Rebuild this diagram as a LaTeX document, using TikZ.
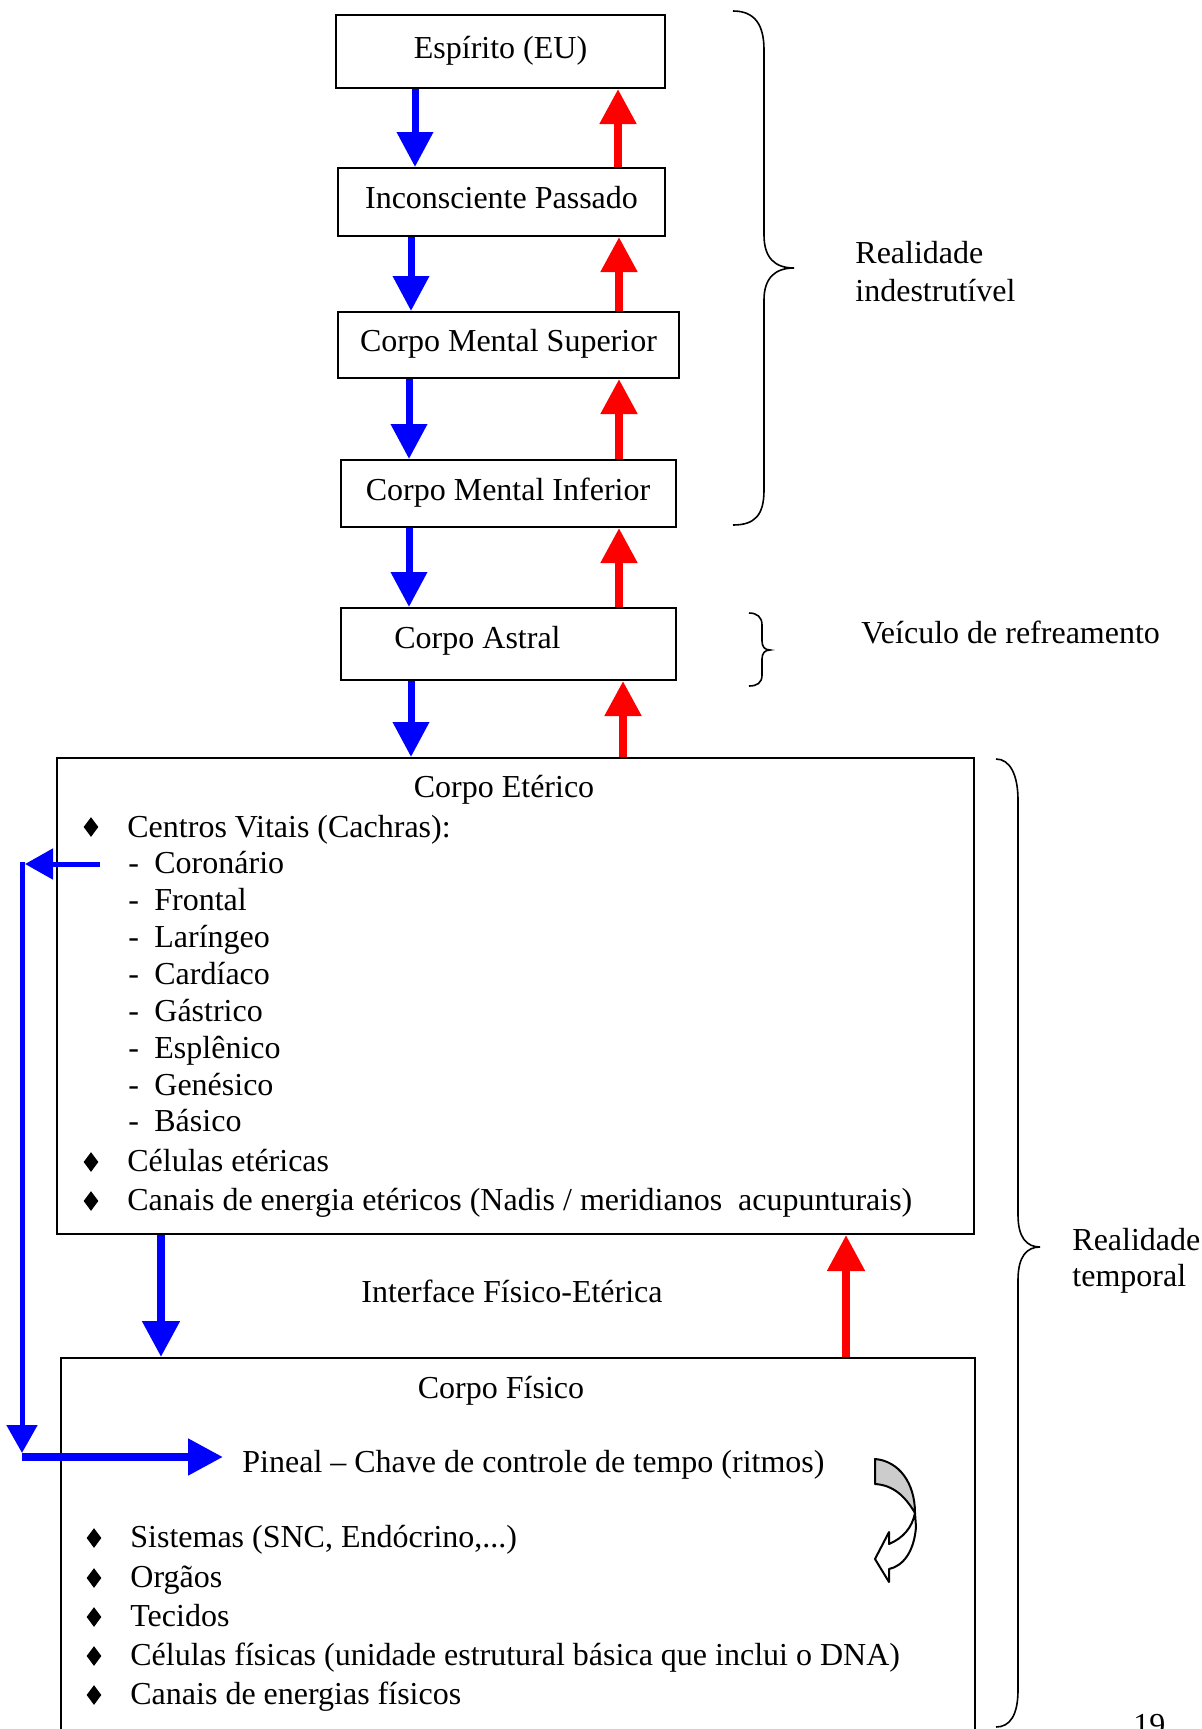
\documentclass[tikz,border=0pt]{standalone}
\usepackage{fontspec}
\setmainfont{Liberation Serif}
\usetikzlibrary{arrows.meta,shapes.geometric}
\tikzset{
  box/.style={draw, line width=1pt, inner sep=0pt, text height=10pt, text depth=3.5pt},
  txt/.style={anchor=base west, inner sep=0pt},
  ctxt/.style={anchor=base, inner sep=0pt},
  bluarrow/.style={draw=blue, line width=3.5pt, -{Triangle[width=17.5pt,length=17.5pt]}, fill=blue},
  redarrow/.style={draw=red, line width=4pt, -{Triangle[width=17.5pt,length=17.5pt]}, fill=red},
  thinblu/.style={draw=blue, line width=2.5pt, -{Triangle[width=15pt,length=14pt]}, fill=blue},
  bracestyle/.style={line width=0.8pt},
  bul/.style={diamond, fill=black, minimum width=7.5pt, minimum height=10pt, inner sep=0pt},
}
\begin{document}
\begin{tikzpicture}[x=0.5pt, y=-0.5pt, font=\fontsize{16pt}{19pt}\selectfont]
\useasboundingbox (0,0) rectangle (1202,1729);

% boxes
\node[box, minimum width=164.5pt, minimum height=36.5pt] (b1) at (500.5,51.5) {Espírito (EU)};
\node[box, minimum width=163.5pt, minimum height=34pt] (b2) at (501.5,202) {Inconsciente Passado};
\node[box, minimum width=170.5pt, minimum height=33pt] (b3) at (508.5,345) {Corpo Mental Superior};
\node[box, minimum width=167.5pt, minimum height=33.5pt] (b4) at (508,493.5) {Corpo Mental Inferior};
\node[box, minimum width=167.5pt, minimum height=36pt] (b5) at (508.5,644) {};
\node[txt] (b5t) at (394,648) {Corpo Astral};
\node[box, minimum width=458.5pt, minimum height=238pt] (b6) at (515.5,996) {};
\node[box, minimum width=457pt, minimum height=205pt] (b7) at (518,1563) {};

% column coordinates
\coordinate (X1) at (415,0);
\coordinate (X2) at (411,0);
\coordinate (X3) at (409,0);
\coordinate (X4) at (409,0);
\coordinate (X5) at (411,0);
\coordinate (R1) at (618,0);
\coordinate (R2) at (619,0);
\coordinate (R3) at (619,0);
\coordinate (R4) at (619,0);
\coordinate (R5) at (623,0);
\coordinate (X6) at (161,0);
\coordinate (R6) at (846,0);

% vertical arrows
\draw[bluarrow] (b1.south -| X1) -- (b2.north -| X1);
\draw[bluarrow] (b2.south -| X2) -- (b3.north -| X2);
\draw[bluarrow] (b3.south -| X3) -- (b4.north -| X3);
\draw[bluarrow] (b4.south -| X4) -- (b5.north -| X4);
\draw[bluarrow] (b5.south -| X5) -- (b6.north -| X5);
\draw[redarrow] (b2.north -| R1) -- (b1.south -| R1);
\draw[redarrow] (b3.north -| R2) -- (b2.south -| R2);
\draw[redarrow] (b4.north -| R3) -- (b3.south -| R3);
\draw[redarrow] (b5.north -| R4) -- (b4.south -| R4);
\draw[redarrow] (b6.north -| R5) -- (b5.south -| R5);
\draw[bluarrow, line width=4pt, -{Triangle[width=18pt,length=18pt]}] (b6.south -| X6) -- (b7.north -| X6);
\draw[redarrow, -{Triangle[width=18pt,length=18pt]}] (b7.north -| R6) -- (b6.south -| R6);

% Corpo Eterico contents
\node[ctxt] (et) at (504,797) {Corpo Etérico};
\node[bul] (e1) at (91,827) {};
\node[txt] (t1) at (127,837) {Centros Vitais (Cachras):};
\node[txt] (d1) at (128,873) {-};
\node[txt] (c1) at (154,873) {Coronário};
\node[txt] (d2) at (128,910) {-};
\node[txt] (c2) at (154,910) {Frontal};
\node[txt] (d3) at (128,947) {-};
\node[txt] (c3) at (154,947) {Laríngeo};
\node[txt] (d4) at (128,984) {-};
\node[txt] (c4) at (154,984) {Cardíaco};
\node[txt] (d5) at (128,1021) {-};
\node[txt] (c5) at (154,1021) {Gástrico};
\node[txt] (d6) at (128,1058) {-};
\node[txt] (c6) at (154,1058) {Esplênico};
\node[txt] (d7) at (128,1095) {-};
\node[txt] (c7) at (154,1095) {Genésico};
\node[txt] (d8) at (128,1131) {-};
\node[txt] (c8) at (154,1131) {Básico};
\node[bul] (e2) at (91,1162) {};
\node[txt] (t2) at (127,1171) {Células etéricas};
\node[bul] (e3) at (91,1201) {};
\node[txt] (t3) at (127,1210) {Canais de energia etéricos (Nadis / meridianos\ \ acupunturais)};

\node[ctxt] (itf) at (512,1302) {Interface Físico-Etérica};

% Corpo Fisico contents
\node[ctxt] (fi) at (501,1398) {Corpo Físico};
\node[txt] (pin) at (242,1472) {Pineal – Chave de controle de tempo (ritmos)};
\node[bul] (f1) at (94,1538) {};
\node[txt] (s1) at (130,1547) {Sistemas (SNC, Endócrino,...)};
\node[bul] (f2) at (94,1578) {};
\node[txt] (s2) at (130,1587) {Orgãos};
\node[bul] (f3) at (94,1617) {};
\node[txt] (s3) at (130,1626) {Tecidos};
\node[bul] (f4) at (94,1656) {};
\node[txt] (s4) at (130,1665) {Células físicas (unidade estrutural básica que inclui o DNA)};
\node[bul] (f5) at (94,1695) {};
\node[txt] (s5) at (130,1704) {Canais de energias físicos};

% left loop arrows
\coordinate (L1) at (100,864);
\coordinate (L2) at (25,864);
\coordinate (L3) at (22,862);
\coordinate (L4) at (22,1453);
\coordinate (L5) at (22,1457);
\draw[thinblu] (L1) -- (L2);
\draw[thinblu] (L3) -- (L4);
\draw[bluarrow, line width=4pt] (L5) -- (L5 -| pin.west) [shorten >=9.5pt];

% curved arrow
\draw[line width=1pt, fill=black!20, line join=round] (875,1459) .. controls (899,1461) and (915,1483) .. (915,1513) .. controls (905,1496) and (893,1485) .. (875,1484) -- cycle;
\draw[line width=1pt, fill=white, line join=round] (915,1513) -- (916,1527) .. controls (914,1552) and (903,1566) .. (889,1569) -- (889,1582) -- (875,1559) -- (889,1532) -- (889,1544) .. controls (903,1538) and (912,1528) .. (915,1513);

% braces
\draw[bracestyle] (733,11) .. controls (755,11) and (764,25) .. (764,50) -- (764,235) .. controls (764,258) and (775,268) .. (794,268) .. controls (775,268) and (764,278) .. (764,300) -- (764,490) .. controls (764,515) and (755,525) .. (733,525);
\draw[bracestyle] (749,613) .. controls (757,613) and (762,617) .. (762,625) -- (762,641) .. controls (762,647) and (765,650) .. (770,650) .. controls (765,650) and (762,653) .. (762,659) -- (762,675) .. controls (762,683) and (757,686) .. (749,686);
\draw[bracestyle] (996,759) .. controls (1010,759) and (1018,775) .. (1018,800) -- (1018,1215) .. controls (1018,1238) and (1027,1247) .. (1040,1247) .. controls (1027,1247) and (1018,1256) .. (1018,1280) -- (1018,1690) .. controls (1018,1715) and (1010,1727) .. (996,1727);

% side labels
\node[txt] (ri1) at (855,263) {Realidade};
\node[txt] (ri2) at (855,301) {indestrutível};
\node[txt] (vr) at (861,643) {Veículo de refreamento};
\node[txt] (rt1) at (1072,1250) {Realidade};
\node[txt] (rt2) at (1072,1286) {temporal};
\node[txt] (pg) at (1133,1735) {19};
\end{tikzpicture}
\end{document}
